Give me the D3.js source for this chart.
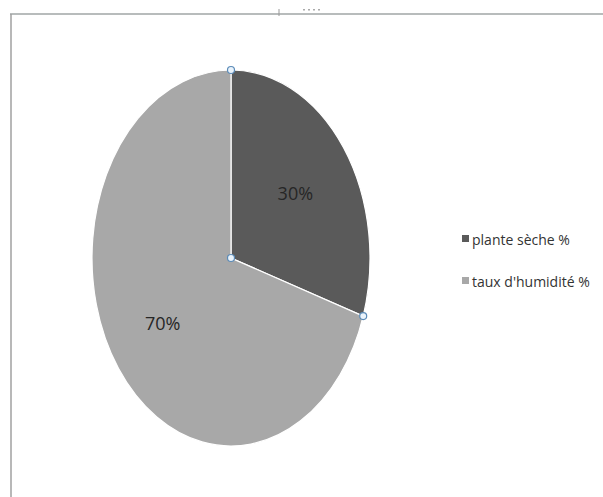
<!DOCTYPE html>
<html>
<head>
<meta charset="utf-8">
<script src="https://cdn.jsdelivr.net/npm/d3@7"></script>
<style>
  html, body { margin: 0; padding: 0; background: #fff; }
  svg { display: block; }
</style>
</head>
<body>
<svg id="chart" width="603" height="497"></svg>
<script>
// Composition of the plant: dry matter vs moisture content
const categories = ["plante sèche %", "taux d'humidité %"];
const values = [30, 70];
const labels = ["30%", "70%"];
const colors = ["#5a5a5a", "#a8a8a8"];

const svg = d3.select("#chart");

// Frame lines (top and left edges of the chart area)
svg.append("line").attr("x1", 10).attr("x2", 603).attr("y1", 14).attr("y2", 14)
  .attr("stroke", "#b8bcbc").attr("stroke-width", 2);
svg.append("line").attr("x1", 11).attr("x2", 11).attr("y1", 14).attr("y2", 497)
  .attr("stroke", "#a0a0a0").attr("stroke-width", 1.5);
svg.append("line").attr("x1", 279).attr("x2", 279).attr("y1", 9).attr("y2", 16)
  .attr("stroke", "#999").attr("stroke-width", 1);
svg.selectAll("rect.dot").data([0, 1, 2, 3]).join("rect")
  .attr("x", d => 303 + d * 5).attr("y", 9).attr("width", 2).attr("height", 1.5)
  .attr("fill", "#aaa");

// Pie drawn in a unit circle, then stretched into an ellipse
const cx = 231, cy = 258, rx = 139, ry = 188, R = 100;
const pie = d3.pie().sort(null).value(d => d)(values);
const arc = d3.arc().innerRadius(0).outerRadius(R);

const g = svg.append("g")
  .attr("transform", `translate(${cx},${cy}) scale(${rx / R},${ry / R})`);

g.selectAll("path").data(pie).join("path")
  .attr("d", arc)
  .attr("fill", (d, i) => colors[i])
  .attr("stroke", "#ffffff")
  .attr("stroke-width", 1.2)
  .attr("vector-effect", "non-scaling-stroke");

// Data labels
const labelArc = d3.arc().innerRadius(R * 0.59).outerRadius(R * 0.59);
svg.selectAll("text.lbl").data(pie).join("text")
  .attr("class", "lbl")
  .attr("x", d => cx + labelArc.centroid(d)[0] * rx / R - 2)
  .attr("y", d => cy + labelArc.centroid(d)[1] * ry / R)
  .attr("text-anchor", "middle")
  .attr("dominant-baseline", "central")
  .attr("font-family", "'Open Sans', sans-serif")
  .attr("font-size", 18)
  .attr("fill", "#262626")
  .text((d, i) => labels[i]);

// Selection handles at the slice edges and centre
const edgePts = [pie[0].startAngle, pie[0].endAngle].map(a => [
  cx + Math.sin(a) * rx, cy - Math.cos(a) * ry
]);
edgePts.push([cx, cy]);
svg.selectAll("circle.h").data(edgePts).join("circle")
  .attr("cx", d => d[0]).attr("cy", d => d[1]).attr("r", 3.5)
  .attr("fill", "#eaf3fb").attr("stroke", "#5b8bb8").attr("stroke-width", 1.2);

// Legend
const legend = svg.append("g").attr("transform", "translate(462,239)");
const items = legend.selectAll("g").data(categories).join("g")
  .attr("transform", (d, i) => `translate(0,${i * 42})`);
items.append("rect").attr("x", 0).attr("y", -4).attr("width", 7).attr("height", 7)
  .attr("fill", (d, i) => colors[i]);
items.append("text").attr("x", 10).attr("y", 0)
  .attr("dominant-baseline", "central")
  .attr("font-family", "'Open Sans', sans-serif")
  .attr("font-size", 14)
  .attr("fill", "#333")
  .text(d => d);
</script>
</body>
</html>
